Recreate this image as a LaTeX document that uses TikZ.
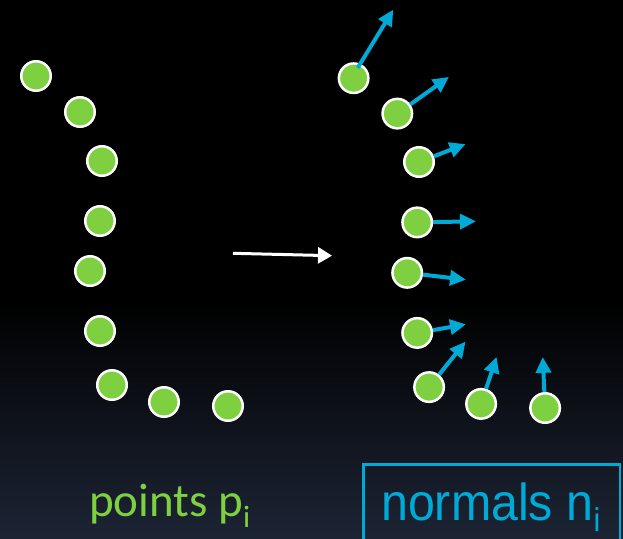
\documentclass[tikz,border=0pt]{standalone}
\usepackage{fontspec}
\usetikzlibrary{arrows.meta}
\newfontfamily\calib{Carlito}
\newfontfamily\arialf{Liberation Sans}
\definecolor{ptgreen}{RGB}{127,208,64}
\definecolor{nrmblue}{RGB}{0,170,214}
\definecolor{bgbottom}{RGB}{28,36,52}
\tikzset{
  pt/.style={circle, draw=white, line width=2.5pt, fill=ptgreen,
             minimum size=29.5pt, inner sep=0pt},
  normalvec/.style={draw=nrmblue, line width=4pt,
             -{Triangle[length=16pt,width=15pt]}},
  mapsto/.style={draw=white, line width=3pt,
             -{Triangle[length=14pt,width=16pt]}},
  lbl/.style={anchor=base west, inner sep=0pt},
}
\begin{document}
\begin{tikzpicture}[x=1pt, y=-1pt]
  % background: black, fading into dark slate at the bottom
  \fill[black] (0,0) rectangle (623,538);
  \shade[top color=black, bottom color=bgbottom] (0,300) rectangle (623,538);
  \useasboundingbox (0,0) rectangle (623,538);

  % input point set
  \node[pt] (p1) at (36,76) {};
  \node[pt] (p2) at (80,112) {};
  \node[pt] (p3) at (102,161) {};
  \node[pt] (p4) at (100,221) {};
  \node[pt] (p5) at (90,271) {};
  \node[pt] (p6) at (100,331) {};
  \node[pt] (p7) at (112,385) {};
  \node[pt] (p8) at (164,402) {};
  \node[pt] (p9) at (228,406) {};

  % transition arrow
  \coordinate (ma) at (233,253.3);
  \coordinate (mb) at (332,255.7);
  \draw[mapsto] (ma) -- (mb);

  % points with estimated normals
  \node[pt] (q1) at (353.6,78.2) {};
  \node[pt] (q2) at (397.3,113.6) {};
  \node[pt] (q3) at (419,162) {};
  \node[pt] (q4) at (417.2,222.4) {};
  \node[pt] (q5) at (407.2,272.8) {};
  \node[pt] (q6) at (417.2,332.9) {};
  \node[pt] (q7) at (429.1,387.1) {};
  \node[pt] (q8) at (481.1,403.9) {};
  \node[pt] (q9) at (545.1,408) {};

  \coordinate (s1) at (357.6,68);
  \coordinate (t1) at (393.3,9.6);
  \coordinate (t2) at (449,76.9);
  \coordinate (t3) at (465.6,144.1);
  \coordinate (t4) at (476,221.3);
  \coordinate (t5) at (466,279.7);
  \coordinate (t6) at (466,324.3);
  \coordinate (t7) at (465.6,341.5);
  \coordinate (t8) at (496.6,356.9);
  \coordinate (t9) at (542.7,356.9);

  \draw[normalvec] (s1) -- (t1);
  \draw[normalvec] (q2) -- (t2);
  \draw[normalvec] (q3) -- (t3);
  \draw[normalvec] (q4) -- (t4);
  \draw[normalvec] (q5) -- (t5);
  \draw[normalvec] (q6) -- (t6);
  \draw[normalvec] (q7) -- (t7);
  \draw[normalvec] (q8) -- (t8);
  \draw[normalvec] (q9) -- (t9);

  % captions
  \node[lbl, text=ptgreen] (lp) at (89,516)
    {\calib\fontsize{47}{47}\selectfont points p\raisebox{-11pt}{\fontsize{31}{31}\selectfont i}};
  \draw[draw=nrmblue, line width=2.5pt] (363.3,545) |- (620,464.3) -- (620,545);
  \node[lbl, text=nrmblue, xscale=0.93] (ln) at (381,520)
    {\arialf\fontsize{52}{52}\selectfont normals n\raisebox{-11pt}{\fontsize{33}{33}\selectfont i}};
\end{tikzpicture}
\end{document}
